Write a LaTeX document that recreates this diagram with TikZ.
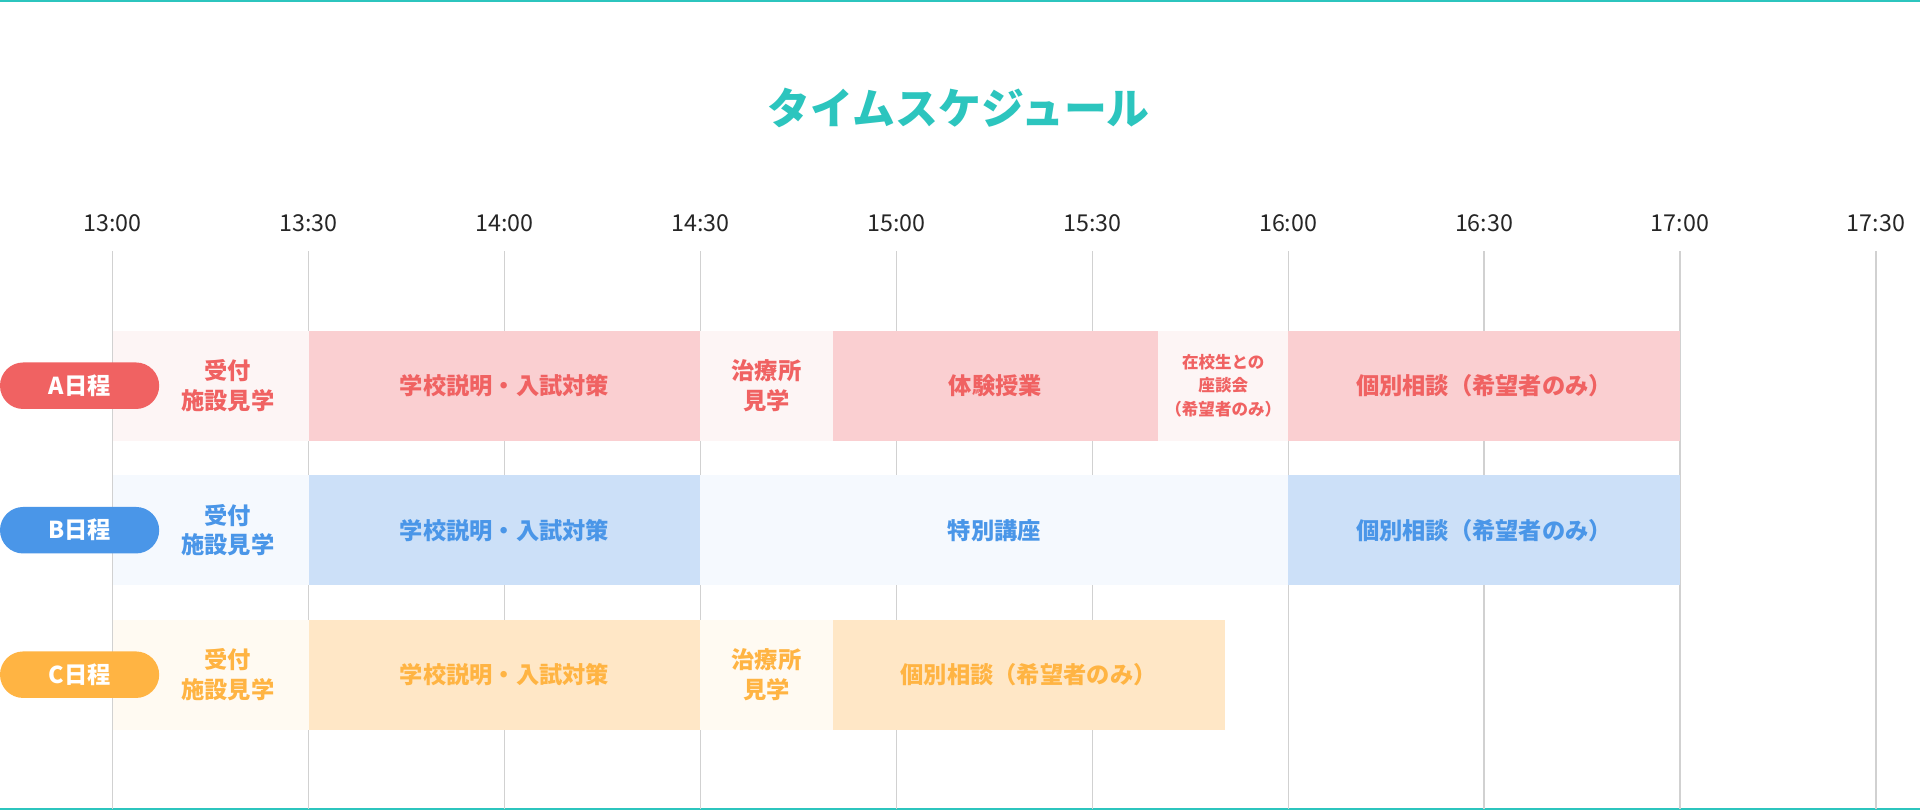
\documentclass[tikz,border=0pt]{standalone}
\usepackage{fontspec}
\setmainfont{Noto Sans CJK JP}
\begin{document}
\begin{tikzpicture}[x=1pt,y=-1pt,
 lab/.style={font=\bfseries\fontsize{19}{24}\selectfont,align=center,inner sep=0},
 badge/.style={rounded corners=19pt,minimum width=130pt,minimum height=38pt,inner sep=0,text=white,font=\bfseries\fontsize{19}{22}\selectfont},
 tm/.style={font=\fontsize{19}{22}\selectfont,text=black!85},
 grid/.style={draw=black!18,line width=1pt}]
\definecolor{teal}{HTML}{2CC5BE}
\definecolor{ra}{HTML}{F06262}\definecolor{rl}{HTML}{FDF5F5}\definecolor{rd}{HTML}{FACFD1}
\definecolor{ba}{HTML}{4A96E8}\definecolor{bl}{HTML}{F5F9FE}\definecolor{bd}{HTML}{CCE0F8}
\definecolor{ca}{HTML}{FFB443}\definecolor{cl}{HTML}{FFFAF2}\definecolor{cd}{HTML}{FFE7C6}
\useasboundingbox (0,0) rectangle (1568,662);
\fill[white] (0,0) rectangle (1568,662);
\draw[teal,line width=1.5pt] (0,1) -- (1568,1);
\draw[teal,line width=1.5pt] (0,661) -- (1568,661);
\node[text=teal,font=\bfseries\fontsize{35}{40}\selectfont] (title) at (783,88) {タイムスケジュール};
\foreach \i/\t in {0/13:00,1/13:30,2/14:00,3/14:30,4/15:00,5/15:30,6/16:00,7/16:30,8/17:00,9/17:30}{
  \node[tm] (t\i) at (92+160*\i,182) {\t};
  \draw[grid] (92+160*\i,205) -- (92+160*\i,661);
}
% row A
\def\ya{270}\def\yb{360}
\fill[rl] (92,\ya) rectangle (252,\yb);
\fill[rd] (252,\ya) rectangle (572,\yb);
\fill[rl] (572,\ya) rectangle (680,\yb);
\fill[rd] (680,\ya) rectangle (946,\yb);
\fill[rl] (946,\ya) rectangle (1052,\yb);
\fill[rd] (1052,\ya) rectangle (1372,\yb);
\node[lab,text=ra] (a1) at (186,315) {受付\\施設見学};
\node[lab,text=ra] (a2) at (412,315) {学校説明・入試対策};
\node[lab,text=ra] (a3) at (626,315) {治療所\\見学};
\node[lab,text=ra] (a4) at (813,315) {体験授業};
\node[lab,text=ra,font=\bfseries\fontsize{13.5}{19}\selectfont] (a5) at (999,315) {在校生との\\座談会\\（希望者のみ）};
\node[lab,text=ra] (a6) at (1212,315) {個別相談（希望者のみ）};
\node[badge,fill=ra] (A) at (65,315) {A日程};
% row B
\def\ya{388}\def\yb{478}
\fill[bl] (92,\ya) rectangle (252,\yb);
\fill[bd] (252,\ya) rectangle (572,\yb);
\fill[bl] (572,\ya) rectangle (1052,\yb);
\fill[bd] (1052,\ya) rectangle (1372,\yb);
\node[lab,text=ba] (b1) at (186,433) {受付\\施設見学};
\node[lab,text=ba] (b2) at (412,433) {学校説明・入試対策};
\node[lab,text=ba] (b3) at (812,433) {特別講座};
\node[lab,text=ba] (b4) at (1212,433) {個別相談（希望者のみ）};
\node[badge,fill=ba] (B) at (65,433) {B日程};
% row C
\def\ya{506}\def\yb{596}
\fill[cl] (92,\ya) rectangle (252,\yb);
\fill[cd] (252,\ya) rectangle (572,\yb);
\fill[cl] (572,\ya) rectangle (680,\yb);
\fill[cd] (680,\ya) rectangle (1000,\yb);
\node[lab,text=ca] (c1) at (186,551) {受付\\施設見学};
\node[lab,text=ca] (c2) at (412,551) {学校説明・入試対策};
\node[lab,text=ca] (c3) at (626,551) {治療所\\見学};
\node[lab,text=ca] (c4) at (840,551) {個別相談（希望者のみ）};
\node[badge,fill=ca] (C) at (65,551) {C日程};
\end{tikzpicture}
\end{document}
